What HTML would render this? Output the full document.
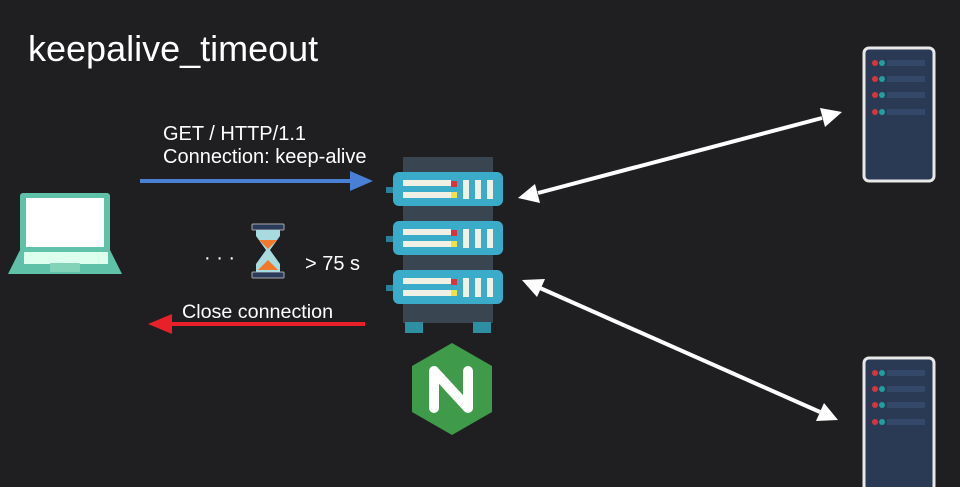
<!DOCTYPE html>
<html><head><style>
body{margin:0;background:#1f1f21;}
svg{display:block}
text{font-family:"Liberation Sans",sans-serif;fill:#fff}
</style></head><body>
<svg width="960" height="487" viewBox="0 0 960 487">
<rect width="960" height="487" fill="#1f1f21"/>
<text x="28" y="61" font-size="36">keepalive_timeout</text>
<text x="163" y="140" font-size="20">GET / HTTP/1.1</text>
<text x="163" y="163" font-size="20">Connection: keep-alive</text>
<text x="305" y="270" font-size="20">&gt; 75 s</text>
<text x="204" y="264" font-size="20">· · ·</text>
<text x="182" y="318" font-size="19.7">Close connection</text>
<!-- blue arrow -->
<line x1="140" y1="181" x2="352" y2="181" stroke="#4a7fd6" stroke-width="4"/>
<path d="M350,171 L373,181 L350,191z" fill="#4a7fd6"/>
<!-- red arrow -->
<line x1="365" y1="324" x2="170" y2="324" stroke="#e8202a" stroke-width="4"/>
<path d="M172,314 L148,324 L172,334z" fill="#e8202a"/>
<!-- white arrows -->
<line x1="538" y1="193" x2="822" y2="118" stroke="#fff" stroke-width="4"/>
<path d="M518,198 L535,184 L540,203z" fill="#fff"/>
<path d="M842,112 L820,108 L825,127z" fill="#fff"/>
<line x1="540" y1="288" x2="820" y2="412" stroke="#fff" stroke-width="4"/>
<path d="M522,280 L537,297 L545,279z" fill="#fff"/>
<path d="M838,420 L816,421 L824,403z" fill="#fff"/>
<!-- laptop -->
<rect x="20" y="193" width="90" height="59" rx="3" fill="#5fc1a8"/>
<rect x="26" y="198" width="78" height="49" fill="#fff"/>
<path d="M20,250 L110,250 L122,274 L8,274z" fill="#5fc1a8"/>
<rect x="24" y="252" width="84" height="12" fill="#dfe"/>
<rect x="50" y="263" width="30" height="9" rx="1" fill="#82d3b7"/>
<!-- hourglass -->
<rect x="252" y="224" width="32" height="6" rx="1" fill="#2a3a5a" stroke="#aaa" stroke-width="1"/>
<rect x="252" y="272" width="32" height="6" rx="1" fill="#2a3a5a" stroke="#aaa" stroke-width="1"/>
<path d="M256,230 L280,230 L280,236 L270,250 L280,264 L280,272 L256,272 L256,264 L266,250 L256,236z" fill="#a7dbe0"/>
<path d="M259,240 L277,240 L268,249z" fill="#f07a2a"/>
<path d="M268,260 L278,270 L258,270z" fill="#f07a2a"/>
<!-- rack -->
<rect x="403" y="157" width="90" height="166" fill="#3a4552"/>
<rect x="405" y="322" width="18" height="11" fill="#2e8fa3"/>
<rect x="473" y="322" width="18" height="11" fill="#2e8fa3"/>
<g id="u">
<rect x="386" y="187" width="10" height="6" fill="#2a7f99"/>
<rect x="393" y="172" width="110" height="34" rx="6" fill="#3aabc8"/>
<rect x="403" y="180" width="48" height="6" fill="#f1f0e4"/>
<rect x="403" y="192" width="48" height="6" fill="#f1f0e4"/>
<rect x="451" y="181" width="6" height="6" fill="#d8343f"/>
<rect x="451" y="192" width="6" height="6" fill="#f1e04a"/>
<rect x="463" y="180" width="6" height="19" fill="#f1f0e4"/>
<rect x="475" y="180" width="6" height="19" fill="#f1f0e4"/>
<rect x="487" y="180" width="6" height="19" fill="#f1f0e4"/>
</g>
<use href="#u" y="49"/>
<use href="#u" y="98"/>
<!-- nginx -->
<path d="M452,343 L492,366 L492,412 L452,435 L412,412 L412,366z" fill="#3f9a4a"/>
<path d="M434,408 L434,371 L468,408 L468,371" fill="none" stroke="#fff" stroke-width="10" stroke-linejoin="round" stroke-linecap="round"/>
<!-- right servers -->
<g id="s">
<rect x="864" y="48" width="70" height="133" rx="5" fill="#2a3a55" stroke="#e8e8e8" stroke-width="3"/>
<g fill="#d8343f"><circle cx="875" cy="63" r="3"/><circle cx="875" cy="79" r="3"/><circle cx="875" cy="95" r="3"/><circle cx="875" cy="112" r="3"/></g>
<g fill="#1fa0a0"><circle cx="882" cy="63" r="3"/><circle cx="882" cy="79" r="3"/><circle cx="882" cy="95" r="3"/><circle cx="882" cy="112" r="3"/></g>
<g fill="#34496a"><rect x="887" y="60" width="38" height="6"/><rect x="887" y="76" width="38" height="6"/><rect x="887" y="92" width="38" height="6"/><rect x="887" y="109" width="38" height="6"/></g>
</g>
<use href="#s" y="310"/>
</svg>
</body></html>
